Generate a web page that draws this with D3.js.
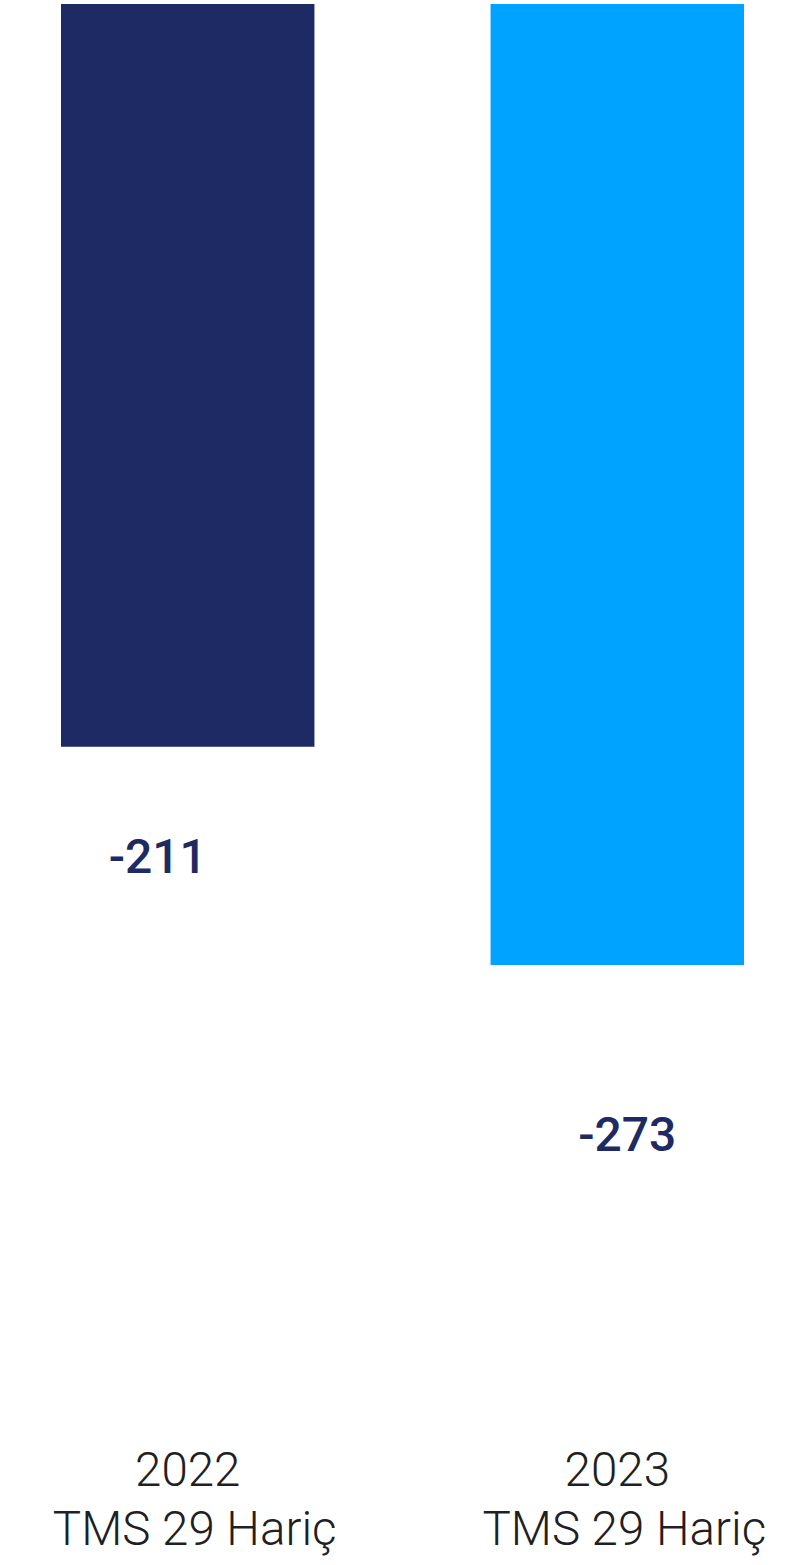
<!DOCTYPE html>
<html>
<head>
<meta charset="utf-8">
<script src="https://cdn.jsdelivr.net/npm/d3@7/dist/d3.min.js"></script>
<style>
  html, body { margin: 0; padding: 0; background: #ffffff; }
  svg { display: block; }
</style>
</head>
<body>
<div id="chart"></div>
<script>
// ---- data ----
const years = ["2022", "2023"];
const subLabels = ["TMS 29 Hariç", "TMS 29 Hariç"];
const values = [-211, -273];
const barColors = ["#1e2a64", "#00a3ff"];

// ---- layout ----
const W = 800, H = 1565;
const labelDy = [126, 186];   // value label baseline offset below bar end
const labelDx = [-30, 10];    // value label horizontal offset from bar center

const svg = d3.select("#chart").append("svg")
  .attr("width", W).attr("height", H);

const x = d3.scaleBand()
  .domain(years)
  .range([61, 744])
  .paddingInner(0.41)
  .paddingOuter(0);

const y = d3.scaleLinear()
  .domain([0, d3.min(values)])
  .range([4, 965]);

const data = years.map((c, i) => ({ c, v: values[i], sub: subLabels[i], col: barColors[i], i }));

svg.selectAll("rect.bar").data(data).enter().append("rect")
  .attr("class", "bar")
  .attr("x", d => x(d.c))
  .attr("width", x.bandwidth())
  .attr("y", d => Math.min(y(0), y(d.v)))
  .attr("height", d => Math.abs(y(d.v) - y(0)))
  .attr("fill", d => d.col);

svg.selectAll("text.val").data(data).enter().append("text")
  .attr("class", "val")
  .attr("x", d => x(d.c) + x.bandwidth() / 2 + labelDx[d.i])
  .attr("y", d => y(d.v) + labelDy[d.i])
  .attr("text-anchor", "middle")
  .attr("font-family", "Roboto, 'Noto Sans', sans-serif")
  .attr("font-weight", 500)
  .attr("font-size", 48)
  .attr("fill", "#1e2a64")
  .text(d => d.v);

const cat = svg.selectAll("g.cat").data(data).enter().append("g")
  .attr("class", "cat")
  .attr("transform", d => `translate(${x(d.c) + x.bandwidth() / 2},0)`);

cat.append("text")
  .attr("x", 0)
  .attr("y", 1486)
  .attr("text-anchor", "middle")
  .attr("font-family", "Roboto, 'Noto Sans', sans-serif")
  .attr("font-weight", 300)
  .attr("font-size", 47.5)
  .attr("fill", "#1f1f24")
  .text(d => d.c);

cat.append("text")
  .attr("x", 7)
  .attr("y", 1545)
  .attr("text-anchor", "middle")
  .attr("font-family", "Roboto, 'Noto Sans', sans-serif")
  .attr("font-weight", 300)
  .attr("font-size", 47.5)
  .attr("fill", "#1f1f24")
  .text(d => d.sub);
</script>
</body>
</html>
